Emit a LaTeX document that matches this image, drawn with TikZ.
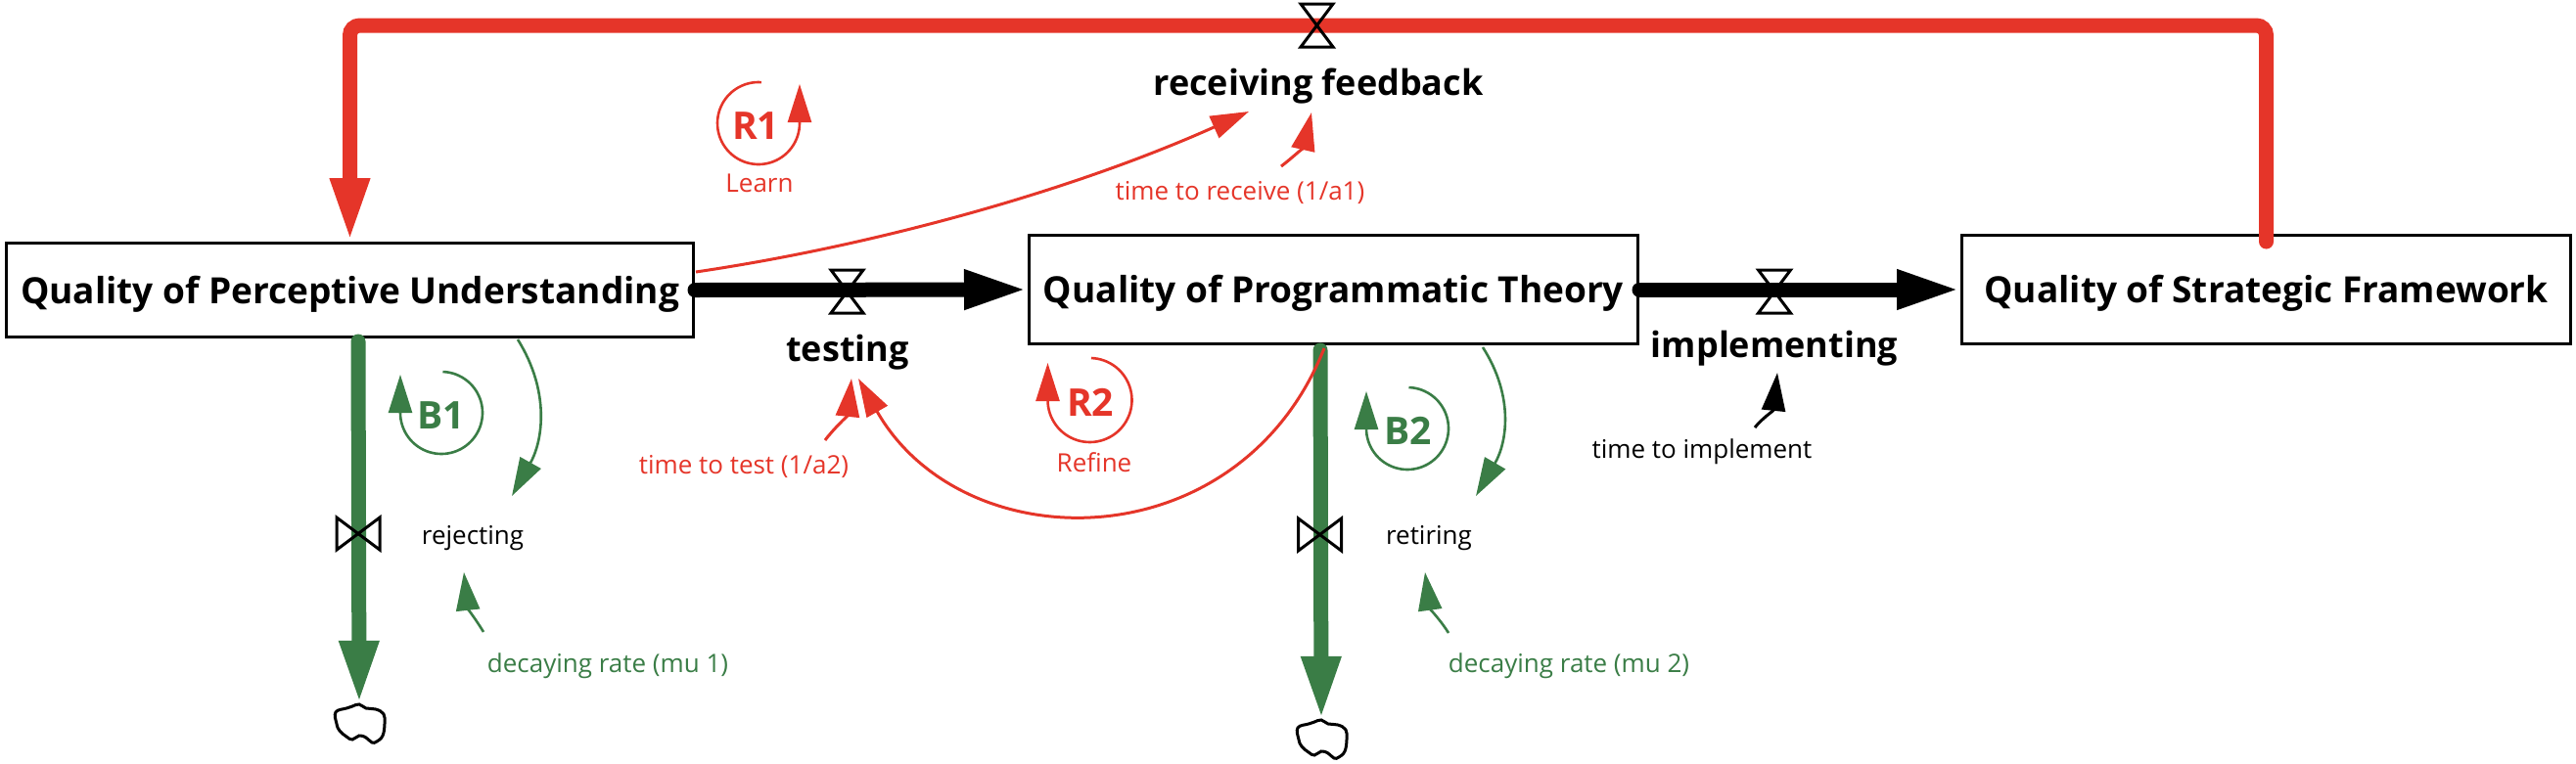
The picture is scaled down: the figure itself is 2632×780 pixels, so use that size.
\documentclass[tikz,border=0pt]{standalone}
\usepackage{fontspec}
\setmainfont{Open Sans}
\usetikzlibrary{arrows.meta}
\definecolor{cldred}{HTML}{E53529}
\definecolor{cldgreen}{HTML}{3A7D46}
\tikzset{
  stock/.style={draw=black, line width=3pt, fill=white, inner sep=0pt,
     font=\fontsize{37pt}{43pt}\selectfont\bfseries, text height=27pt, text depth=0pt},
  flowlbl/.style={font=\fontsize{36pt}{42pt}\selectfont\bfseries, inner sep=0pt},
  lbl/.style={font=\fontsize{26pt}{30pt}\selectfont, inner sep=0pt},
  looplbl/.style={font=\fontsize{39pt}{44pt}\selectfont\bfseries, inner sep=0pt},
  pipe/.style={line width=15pt, line cap=round},
  pipetip/.style={-{Triangle[length=65pt,width=37pt]}},
  valve/.style={draw=black, line width=3pt, line join=miter},
  link/.style={line width=3pt, -{Triangle[length=39pt,width=24pt]}},
  loopc/.style={line width=2.6pt, -{Triangle[length=39pt,width=24pt]}},
  cloudpic/.pic={\draw[line width=3pt, fill=white] plot[smooth cycle, tension=0.7] coordinates
     {(-24,-12) (-13,-16) (-7,-18) (0,-20) (7,-16) (17,-15) (25,-10) (26,0) (24,12)
      (18,18) (13,19) (7,14) (0,12) (-7,16) (-13,13) (-20,7) (-23,0)};},
}
\begin{document}
\begin{tikzpicture}[x=1pt,y=-1pt]
\useasboundingbox (0,0) rectangle (2632,780);
% stocks
\node[stock, minimum width=702pt, minimum height=96pt] (QPU) at (357.5,296.5) {Quality of Perceptive Understanding};
\node[stock, minimum width=622pt, minimum height=111pt] (QPT) at (1362.5,296) {Quality of Programmatic Theory};
\node[stock, minimum width=622pt, minimum height=111pt] (QSF) at (2315.5,296) {Quality of Strategic Framework};
% clouds
\node[inner sep=0pt, minimum width=50pt, minimum height=40pt] (cloudA) at (367,740) {};
\node[inner sep=0pt, minimum width=50pt, minimum height=40pt] (cloudB) at (1350,756) {};
\pic at (cloudA) {cloudpic};
\pic at (cloudB) {cloudpic};
% valve positions
\coordinate (vTop) at (1345.5,26);
\coordinate (vTest) at (865.5,298);
\coordinate (vImpl) at (1813,298);
\coordinate (vRej) at (366,545.5);
\coordinate (vRet) at (1348.5,546.5);
\coordinate (rejOut) at (366,349);
\coordinate (retOut) at (1349,358);
% pipes
\draw[pipe, cldred, rounded corners=10pt, pipetip] ([yshift=-8pt]QSF.north) |- (vTop) -| (QPU.north);
\draw[pipe, black, pipetip] (QPU.east) -- (QPT.west);
\draw[pipe, black, pipetip] (QPT.east) -- (QSF.west);
\draw[pipe, cldgreen, pipetip] (rejOut) -- (cloudA.north);
\draw[pipe, cldgreen, pipetip] (retOut) -- (cloudB.north);
% valves
\draw[valve] (vTop) ++(-16.5,-22) -- ++(33,0) -- ++(-33,44) -- ++(33,0) -- cycle;
\draw[valve] (vTest) ++(-16.5,-22) -- ++(33,0) -- ++(-33,44) -- ++(33,0) -- cycle;
\draw[valve] (vImpl) ++(-16.5,-22) -- ++(33,0) -- ++(-33,44) -- ++(33,0) -- cycle;
\draw[valve] (vRej) ++(-22,-16.5) -- ++(44,33) -- ++(0,-33) -- ++(-44,33) -- cycle;
\draw[valve] (vRet) ++(-22,-16.5) -- ++(44,33) -- ++(0,-33) -- ++(-44,33) -- cycle;
% flow labels
\node[flowlbl] (rf) at (1347,88) {receiving feedback};
\node[flowlbl] (tst) at (866,360) {testing};
\node[flowlbl] (impl) at (1813,356) {implementing};
\node[lbl] (rej) at (483,550) {rejecting};
\node[lbl] (ret) at (1460,550) {retiring};
% auxiliaries
\node[lbl, text=cldred] (ttr) at (1267,197) {time to receive (1/a1)};
\node[lbl, text=cldred] (ttt) at (760,477) {time to test (1/a2)};
\node[lbl] (tti) at (1739,462) {time to implement};
\node[lbl, text=cldgreen] (dr1) at (621,681) {decaying rate (mu 1)};
\node[lbl, text=cldgreen] (dr2) at (1603,681) {decaying rate (mu 2)};
% loop labels
\node[looplbl, text=cldred] (R1) at (772,129) {R1};
\node[lbl, text=cldred] (learn) at (776,187) {Learn};
\node[looplbl, text=cldgreen] (B1) at (451,425) {B1};
\node[looplbl, text=cldred] (R2) at (1114,411) {R2};
\node[lbl, text=cldred] (refine) at (1118,473) {Refine};
\node[looplbl, text=cldgreen] (B2) at (1439,440) {B2};
% loop arrows
\draw[loopc, cldred] plot[domain=274:0, samples=60] ({775+42*cos(\x)},{126+42*sin(\x)}) -- ++(0,-40);
\draw[loopc, cldgreen] plot[domain=272:540, samples=60] ({451+42*cos(\x)},{422+42*sin(\x)}) -- ++(0,-39);
\draw[loopc, cldred] plot[domain=272:540, samples=60] ({1113.5+43*cos(\x)},{409+43*sin(\x)}) -- ++(0,-38);
\draw[loopc, cldgreen] plot[domain=272:540, samples=60] ({1438+42*cos(\x)},{438+42*sin(\x)}) -- ++(0,-38);
% link end points
\coordinate (lQPUa) at (711,278);
\coordinate (lRFa) at (1276,114);
\coordinate (lTTRa) at (1309,170);
\coordinate (lRFb) at (1340,115);
\coordinate (lTTTa) at (843,450);
\coordinate (lTSTa) at (870,387);
\coordinate (lQPTa) at (1353,356);
\coordinate (lTSTb) at (877,387);
\coordinate (lQPUb) at (529,347);
\coordinate (lREJa) at (523,507);
\coordinate (lDR1a) at (494,646);
\coordinate (lREJb) at (474,585);
\coordinate (lQPTb) at (1515,355);
\coordinate (lRETa) at (1508,507);
\coordinate (lDR2a) at (1480,647);
\coordinate (lRETb) at (1456,585);
\coordinate (lTTIa) at (1793,437);
\coordinate (lIMPa) at (1816,381);
% links
\draw[link, cldred] (lQPUa) .. controls (900,250) and (1100,193) .. (lRFa);
\draw[link, cldred] (lTTRa) .. controls (1322,160) and (1332,150) .. (lRFb);
\draw[link, cldred] (lTTTa) .. controls (852,438) and (866,425) .. (lTSTa);
\draw[link, cldred] (lQPTa) .. controls (1266,575) and (984,575) .. (lTSTb);
\draw[link, cldgreen, line width=2.6pt] (lQPUb) .. controls (562,400) and (555,450) .. (lREJa);
\draw[link, cldgreen, line width=2.6pt] (lDR1a) .. controls (488,636) and (478,622) .. (lREJb);
\draw[link, cldgreen, line width=2.6pt] (lQPTb) .. controls (1547,405) and (1540,452) .. (lRETa);
\draw[link, cldgreen, line width=2.6pt] (lDR2a) .. controls (1474,637) and (1461,622) .. (lRETb);
\draw[link, black] (lTTIa) .. controls (1800,428) and (1812,420) .. (lIMPa);
\end{tikzpicture}
\end{document}
